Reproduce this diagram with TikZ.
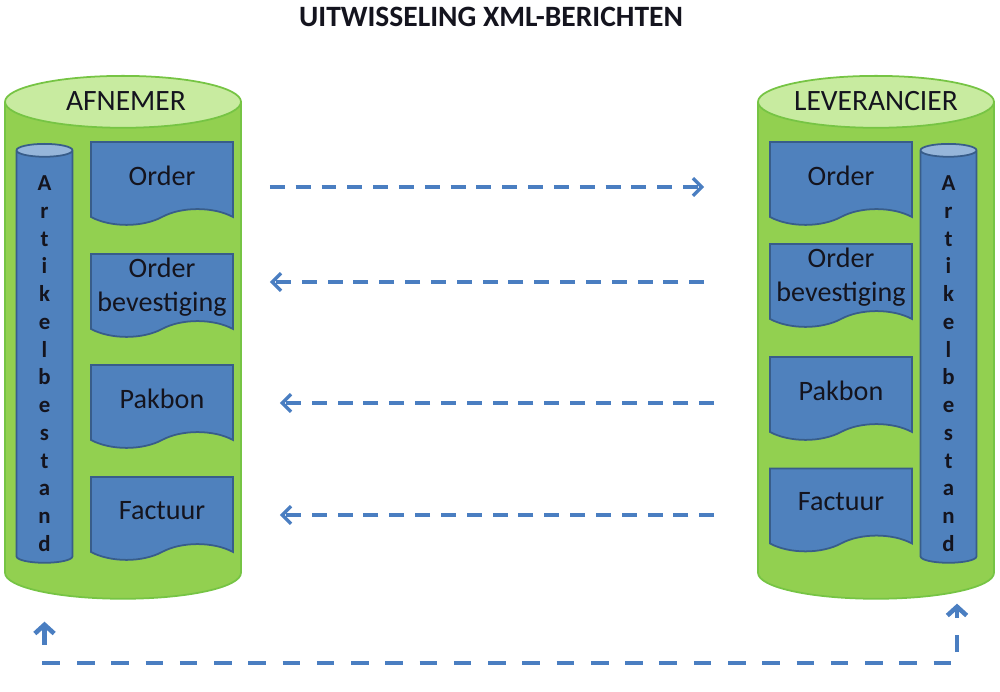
\documentclass[tikz,border=0pt]{standalone}
\usepackage{fontspec}
\setmainfont{Carlito}
\usetikzlibrary{shapes.geometric,shapes.symbols,arrows.meta}
\definecolor{Store}{RGB}{146,208,80}
\definecolor{StoreTop}{RGB}{200,235,160}
\definecolor{StoreLine}{RGB}{118,196,68}
\definecolor{Message}{RGB}{79,129,189}
\definecolor{MessageLine}{RGB}{56,93,138}
\definecolor{FileTop}{RGB}{150,182,218}
\definecolor{Flow}{RGB}{74,126,193}
\definecolor{Ink}{RGB}{20,20,30}

\begin{document}
\begin{tikzpicture}[x=0.02cm, y=-0.02cm]
			\tikzstyle{party}=[cylinder, shape border rotate=90, anchor=north, draw=StoreLine, line width=1pt, cylinder uses custom fill, cylinder body fill=Store, cylinder end fill=StoreTop, aspect=0.22, minimum width=4.72cm, minimum height=10.46cm, inner sep=2.36cm];
			\tikzstyle{register}=[cylinder, shape border rotate=90, anchor=north, draw=MessageLine, line width=1pt, cylinder uses custom fill, cylinder body fill=Message, cylinder end fill=FileTop, aspect=0.23, minimum width=1.12cm, minimum height=8.38cm, inner sep=0.56cm];
			\tikzstyle{lettering}=[inner sep=0pt, align=center, text=Ink, font=\fontsize{13}{15.8}\selectfont\bfseries];
			\tikzstyle{doc}=[tape, tape bend top=none, tape bend bottom=in and out, tape bend height=9pt, draw=MessageLine, line width=1pt, fill=Message, minimum width=2.84cm, minimum height=1.66cm, inner sep=0pt, align=center, text=Ink, font=\fontsize{16}{19.5}\selectfont];
			\tikzstyle{partylabel}=[text=Ink, font=\fontsize{16.8}{20}\selectfont];
			\tikzstyle{msg}=[draw=Flow, line width=1.9pt, dash pattern=on 8.5pt off 6.2pt, -{Straight Barb[length=5pt,width=10pt]}];
			\tikzstyle{sync}=[draw=Flow, line width=2.6pt, dash pattern=on 10pt off 9.5pt, {Straight Barb[length=5pt,width=11pt]}-{Straight Barb[length=5pt,width=11pt]}];
			\useasboundingbox (0,0) rectangle (1000,692);
			\node [partylabel, font=\fontsize{16.8}{20}\selectfont\bfseries] (title) at (491,17) {UITWISSELING XML-BERICHTEN};
			% afnemer
			\node [party] (afnemer) at (123,75) {};
			\node [partylabel] (lname) at (126,101) {AFNEMER};
			\node [register, label={[lettering, yshift=-0.07cm]center:A\\r\\t\\i\\k\\e\\l\\b\\e\\s\\t\\a\\n\\d}] (lart) at (44.5,143) {};
			\node [doc] (lorder) at (162,175.5) {Order};
			\node [doc] (lbev) at (162,287.5) {Order\\bevestiging};
			\node [doc] (lpak) at (162,398.5) {Pakbon};
			\node [doc] (lfact) at (162,510.5) {Factuur};
			% leverancier
			\node [party] (leverancier) at (876,75) {};
			\node [partylabel] (rname) at (876,101) {LEVERANCIER};
			\node [register, label={[lettering, yshift=-0.07cm]center:A\\r\\t\\i\\k\\e\\l\\b\\e\\s\\t\\a\\n\\d}] (rart) at (948.5,143) {};
			\node [doc] (rorder) at (841,175.5) {Order};
			\node [doc] (rbev) at (841,277.5) {Order\\bevestiging};
			\node [doc] (rpak) at (841,390.5) {Pakbon};
			\node [doc] (rfact) at (841,502) {Factuur};
			% berichten
			\draw [msg, shorten <=0.72cm, shorten >=1.3cm] (lorder.east |- 0,187) -- (rorder.west |- 0,187);
			\draw [msg, shorten <=1.3cm, shorten >=0.72cm] (rbev.west |- 0,282) -- (lbev.east |- 0,282);
			\draw [msg, shorten <=1.1cm, shorten >=0.92cm] (rpak.west |- 0,403) -- (lpak.east |- 0,403);
			\draw [msg, shorten <=1.1cm, shorten >=0.92cm] (rfact.west |- 0,515) -- (lfact.east |- 0,515);
			\draw [sync, shorten <=1.16cm, shorten >=0.8cm] (lart.south) -- (lart.south |- 0,663) -| ([xshift=0.17cm]rart.south);
		\end{tikzpicture}
\end{document}
